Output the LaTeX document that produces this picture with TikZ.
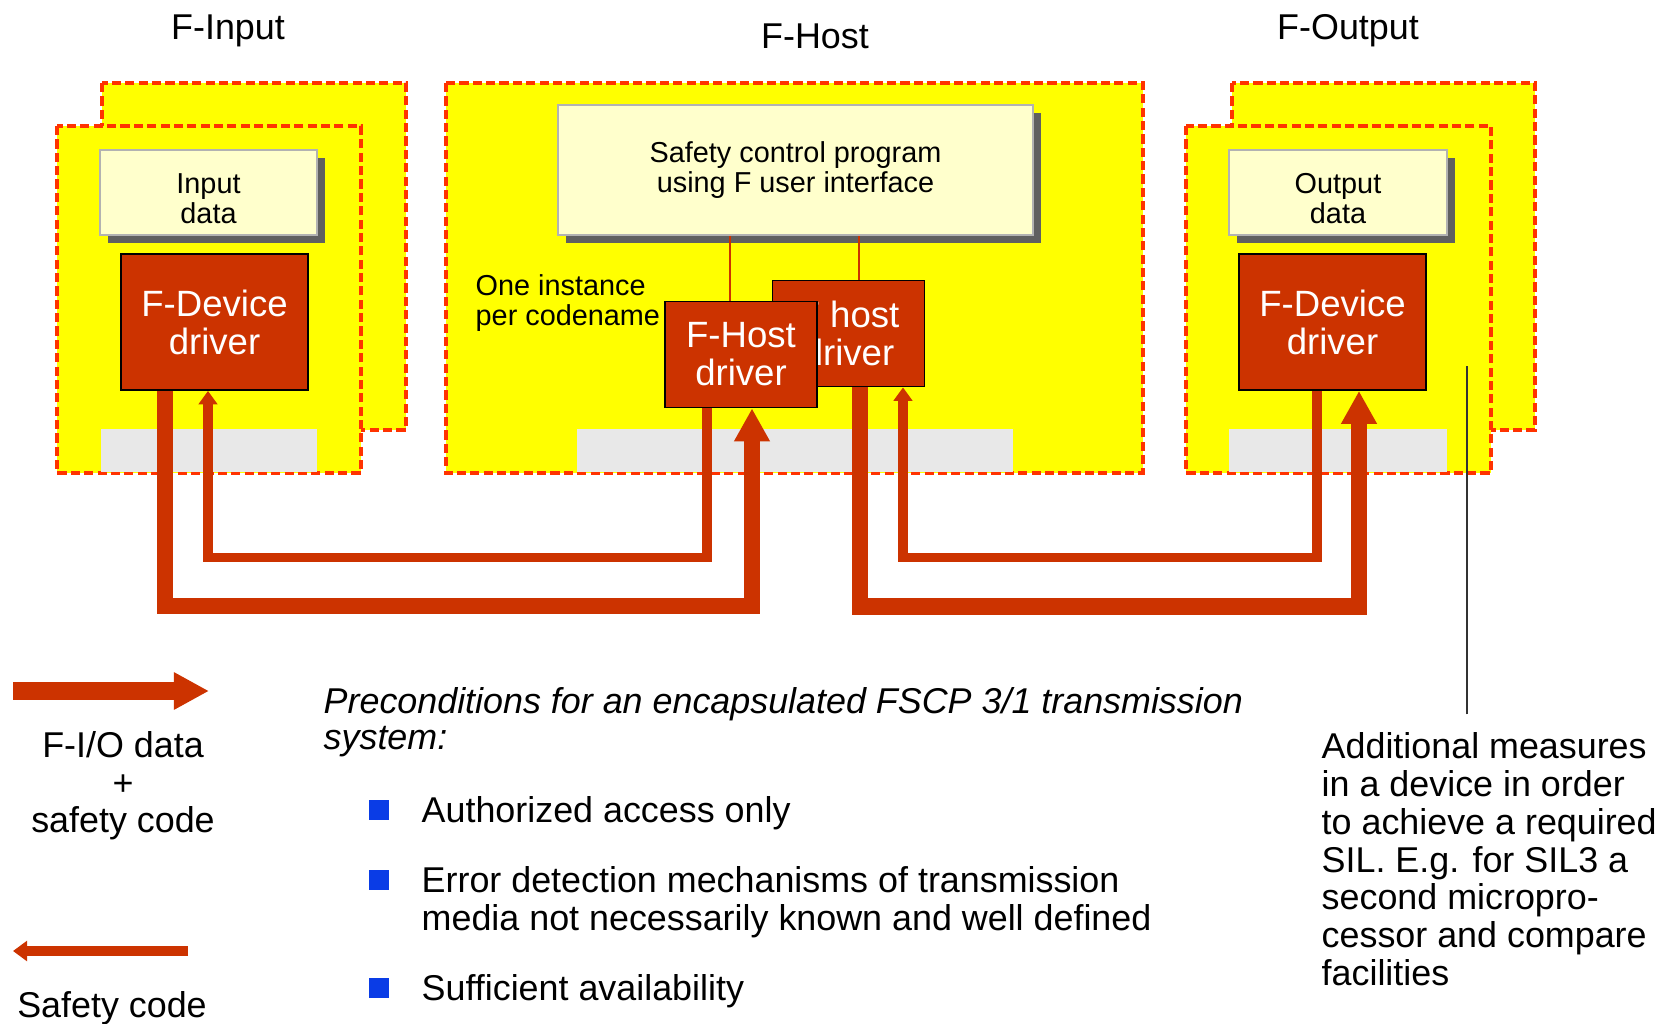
\documentclass[tikz,border=0pt]{standalone}
\usepackage{fontspec}
\setmainfont{Liberation Sans}
\usetikzlibrary{arrows.meta,shadows}
\definecolor{fyellow}{HTML}{FFFF00}
\definecolor{fdash}{HTML}{FF3300}
\definecolor{fbrick}{HTML}{CC3300}
\definecolor{fcream}{HTML}{FFFFCC}
\definecolor{fshadow}{HTML}{606060}
\definecolor{fgrey}{HTML}{E8E8E8}
\definecolor{fblue}{HTML}{0A3CE6}
\newcommand{\inback}{(102,83) rectangle (406,430)}
\newcommand{\infront}{(57,126) rectangle (361,473)}
\newcommand{\hostframe}{(446,83) rectangle (1143,473)}
\newcommand{\outback}{(1232,83) rectangle (1535,430)}
\newcommand{\outfront}{(1186,126) rectangle (1491,473)}
\newcommand{\boxtext}{\fontsize{8.2}{8.6}\selectfont}
\newcommand{\drvtext}{\fontsize{10.4}{10.8}\selectfont}
\newcommand{\plaintext}{\fontsize{10.2}{10.7}\selectfont}
\newcommand{\notetext}{\fontsize{10.2}{10.75}\selectfont}
\newcommand{\lowstrut}{\rule{0pt}{9pt}}

\begin{document}
\begin{tikzpicture}[x=0.01cm, y=-0.01cm,
  every node/.style={font=\plaintext, inner sep=0pt},
  station/.style={fill=fyellow, draw=fdash, line width=1pt, dash pattern=on 2.6pt off 1.2pt},
  busarea/.style={fill=fgrey},
  databox/.style={draw=gray!60, line width=0.6pt, fill=fcream, align=center, font=\boxtext,
    drop shadow={shadow xshift=2.3pt, shadow yshift=-2.3pt, fill=fshadow, opacity=1}},
  driverbox/.style={draw=black, line width=0.5pt, fill=fbrick, text=white, align=center,
    font=\drvtext, minimum width=1.87cm, minimum height=1.36cm},
  hostbox/.style={driverbox, minimum width=1.52cm, minimum height=1.06cm},
  tap/.style={draw=fbrick, line width=0.5pt},
  iodata/.style={draw=fbrick, line width=4.6pt, -{Triangle[length=9.4pt,width=9.6pt]}},
  safecode/.style={draw=fbrick, line width=2.6pt, -{Triangle[length=3.8pt,width=5.2pt]}},
  bulletbox/.style={fill=fblue, minimum size=0.2cm},
  pointer/.style={draw=black!80, line width=0.4pt}]

  \useasboundingbox (0,0) rectangle (1675,1024);

  %% titles
  \node (ttlin) at (228,31) {F-Input};
  \node (ttlhost) at (815,36) {F-Host};
  \node (ttlout) at (1348,31) {F-Output};

  %% F-Input station
  \path[station] \inback;
  \path[station] \infront;
  \path[busarea] (101,429) rectangle (317,472);
  \node[databox, minimum width=2.17cm, minimum height=0.85cm] (indata) at (208.5,192.5)
    {\lowstrut Input\\data};
  \node[driverbox] (indrv) at (214.5,322) {F-Device\\driver};

  %% F-Host station
  \path[station] \hostframe;
  \path[busarea] (577,429) rectangle (1013,472);
  \node[databox, minimum width=4.75cm, minimum height=1.3cm] (prog) at (795.5,170)
    {Safety control program\\using F user interface};
  \node[font=\boxtext, align=left, anchor=west] (percode) at (475,303) {One instance\\per codename};
  \node[hostbox] (hostB) at (848.5,333.5) {F host\\driver};
  \node[hostbox] (hostA) at (741,354.5) {F-Host\\driver};
  \coordinate (hAtap) at ([shift={(-11,0)}]hostA.north);
  \coordinate (hBtap) at ([shift={(10.5,0)}]hostB.north);
  \draw[tap] (hAtap) -- (hAtap |- prog.south);
  \draw[tap] (hBtap) -- (hBtap |- prog.south);

  %% F-Output station
  \path[station] \outback;
  \path[station] \outfront;
  \path[busarea] (1229,429) rectangle (1447,472);
  \node[databox, minimum width=2.18cm, minimum height=0.85cm] (outdata) at (1338,192.5)
    {\lowstrut Output\\data};
  \node[driverbox] (outdrv) at (1332.5,322) {F-Device\\driver};

  %% transfers between drivers
  \draw[iodata] ([shift={(-49.5,0)}]indrv.south) -- ++(0,215) -| ([shift={(11,0)}]hostA.south);
  \draw[safecode] ([shift={(-34,0)}]hostA.south) -- ++(0,149) -| ([shift={(-6.5,0)}]indrv.south);
  \draw[iodata] ([shift={(11.5,0)}]hostB.south) -- ++(0,219) -| ([shift={(26.5,0)}]outdrv.south);
  \draw[safecode] ([shift={(-15.5,0)}]outdrv.south) -- ++(0,167) -| ([shift={(54.5,0)}]hostB.south);

  %% legend
  \coordinate (iotail) at (13,691);
  \coordinate (iohead) at (209,691);
  \draw[draw=fbrick, line width=5pt, -{Triangle[length=10pt,width=10pt]}] (iotail) -- (iohead);
  \node[align=center, font=\fontsize{10.2}{10.65}\selectfont] (legio) at (123,786) {F-I/O data\\+\\safety code};
  \coordinate (sctail) at (188,951);
  \coordinate (schead) at (13,951);
  \draw[draw=fbrick, line width=2.8pt, -{Triangle[length=4pt,width=5.6pt]}] (sctail) -- (schead);
  \node (legsc) at (112,1008) {Safety code};

  %% preconditions
  \node[anchor=west, align=left, font=\fontsize{10.2}{10.25}\selectfont\itshape] (precond) at (323,722)
    {Preconditions for an encapsulated FSCP 3/1 transmission\\system:};
  \node[bulletbox] (b1) at (379,810) {};
  \node[bulletbox] (b2) at (379,880) {};
  \node[bulletbox] (b3) at (379,988) {};
  \node[anchor=west] (t1) at (421,813) {Authorized access only};
  \node[anchor=west, align=left, font=\fontsize{10.2}{10.8}\selectfont] (t2) at (421,902)
    {Error detection mechanisms of transmission\\media not necessarily known and well defined};
  \node[anchor=west] (t3) at (421,991) {Sufficient availability};

  %% note on the output device
  \node[anchor=north west, align=left, font=\notetext] (measures) at (1321,732)
    {Additional measures\\in a device in order\\to achieve a required\\SIL. E.g. for SIL3 a\\second micropro-\\cessor and compare\\facilities};
  \coordinate (ptrtop) at (1467,366);
  \draw[pointer, shorten <=5pt] (measures.north -| ptrtop) -- (ptrtop);

\end{tikzpicture}
\end{document}
